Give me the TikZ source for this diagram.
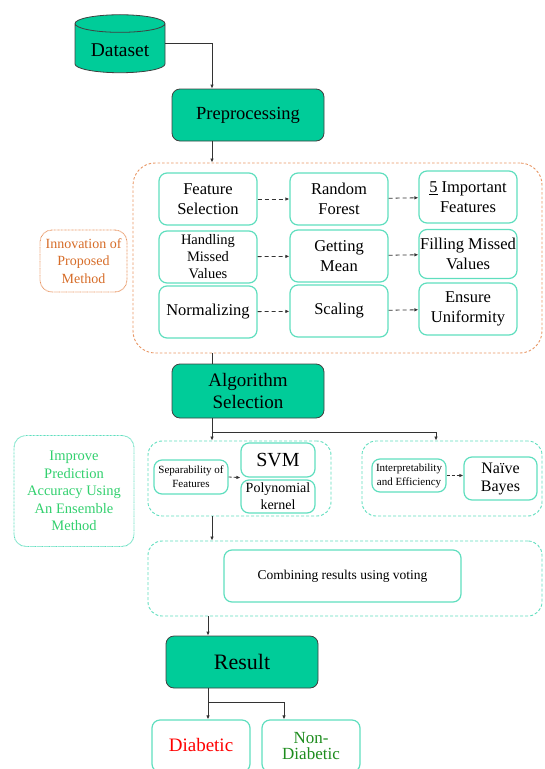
\documentclass[tikz,border=0pt]{standalone}
\usepackage{fontspec}
\setmainfont{Liberation Serif}
\usetikzlibrary{shapes.geometric,arrows.meta}
\definecolor{mint}{RGB}{0,204,153}
\definecolor{tealline}{RGB}{95,222,190}
\definecolor{orangeline}{RGB}{232,150,100}
\definecolor{orangetext}{RGB}{214,108,40}
\definecolor{greentext}{RGB}{50,208,110}
\definecolor{forestgreen}{RGB}{30,140,30}

\tikzset{
  mainbox/.style={draw=black!75, fill=mint, rounded corners=8pt, line width=0.8pt, align=center, inner sep=0pt},
  stepbox/.style={draw=tealline, line width=1.2pt, rounded corners=8pt, align=center, inner sep=0pt,
    font=\fontsize{16.5}{20}\selectfont, minimum width=98pt, minimum height=52pt},
  smallbox/.style={stepbox, minimum width=74pt, minimum height=34pt},
  groupbox/.style={draw=tealline, line width=0.9pt, dash pattern=on 3pt off 2pt, rounded corners=14pt, inner sep=0pt},
  notebox/.style={line width=0.9pt, dash pattern=on 0.8pt off 0.6pt, rounded corners=12pt, align=center, inner sep=0pt},
  flow/.style={->, draw=black!80, line width=0.8pt},
  dflow/.style={flow, dash pattern=on 4pt off 3pt}
}

\begin{document}
\begin{tikzpicture}[x=1pt, y=-1pt, >={Latex[length=4pt,width=3.5pt]}]
\useasboundingbox (0,0) rectangle (544,769);
% Input and preprocessing
\node[cylinder, shape border rotate=90, aspect=0.27, draw=black!75, fill=mint, line width=0.8pt,
  minimum width=90pt, minimum height=58pt, font=\fontsize{19.5}{22}\selectfont] (ds) at (120,50) {Dataset};
\node[mainbox, minimum width=152pt, minimum height=52pt, font=\fontsize{18.5}{22}\selectfont] (pre) at (248,115) {Preprocessing};
\coordinate (spine) at (212,0);
\coordinate (rspine) at (436,0);
\coordinate (lspine) at (208,0);
\coordinate (nspine) at (284,0);
% Innovation block
\node[draw=orangeline, line width=0.9pt, dash pattern=on 2.5pt off 2pt, rounded corners=22pt,
  minimum width=409pt, minimum height=190pt] (innov) at (337.5,258) {};
\node[notebox, draw=orangeline, text=orangetext, minimum width=87pt, minimum height=62pt,
  font=\fontsize{14}{17.5}\selectfont] (inv) at (83.5,261) {Innovation of\\Proposed\\Method};
\node[stepbox] (fs) at (208,199) {Feature\\Selection};
\node[stepbox] (rf) at (339,199) {Random\\Forest};
\node[stepbox] (imp) at (468,197) {\underline{5} Important\\Features};
\node[stepbox, font=\fontsize{14.5}{17}\selectfont] (hm) at (208,257) {Handling\\Missed\\Values};
\node[stepbox] (gm) at (339,256) {Getting\\Mean};
\node[stepbox, minimum height=49pt] (fm) at (468,254) {Filling Missed\\Values};
\node[stepbox] (nz) at (208,312) {\raisebox{4pt}{Normalizing}};
\node[stepbox] (sc) at (339,311) {\raisebox{4pt}{Scaling}};
\node[stepbox] (eu) at (468,309) {Ensure\\Uniformity};
\draw[dflow] (fs) -- (rf);
\draw[dflow] (rf) -- (imp);
\draw[dflow] (hm) -- (gm);
\draw[dflow] (gm) -- (fm);
\draw[dflow] (nz) -- (sc);
\draw[dflow] (sc) -- (eu);
% Algorithm selection
\node[mainbox, minimum width=152pt, minimum height=54pt, font=\fontsize{19}{22}\selectfont] (alg) at (248,391) {Algorithm\\Selection};
\node[groupbox, minimum width=183pt, minimum height=75pt] (svmgrp) at (239.5,478.5) {};
\node[groupbox, minimum width=180pt, minimum height=75pt] (nbgrp) at (452,478.5) {};
\node[notebox, draw=tealline, text=greentext, minimum width=120pt, minimum height=111pt,
  font=\fontsize{14.5}{17.5}\selectfont] (ens) at (74,491) {Improve\\Prediction\\Accuracy Using\\An Ensemble\\Method};
\node[smallbox, font=\fontsize{11}{14}\selectfont] (sep) at (191,477) {Separability of\\Features};
\node[smallbox, font=\fontsize{20}{22}\selectfont] (svm) at (278,460) {SVM};
\node[smallbox, minimum height=33pt, font=\fontsize{14}{17}\selectfont] (poly) at (278,496.5) {Polynomial\\kernel};
\node[smallbox, minimum height=33pt, font=\fontsize{11}{14}\selectfont] (intp) at (409,475.5) {Interpretability\\and Efficiency};
\node[smallbox, minimum width=73pt, minimum height=43pt, font=\fontsize{16}{18}\selectfont] (nb) at (500.5,478.5) {Naïve\\Bayes};
\draw[dflow, dash pattern=on 3pt off 2pt] (sep.east) -- (svm.south west);
\draw[dflow, dash pattern=on 3pt off 2pt] (intp.east) -- (intp.east -| nb.west);
% Voting and result
\node[groupbox, minimum width=394pt, minimum height=75pt] (combgrp) at (345,578.5) {};
\node[stepbox, minimum width=237pt, minimum height=52pt, font=\fontsize{13.5}{16}\selectfont] (comb) at (342.5,576) {Combining results using voting};
\node[mainbox, minimum width=152pt, minimum height=52pt, font=\fontsize{22}{24}\selectfont] (res) at (242,662) {Result};
\node[stepbox, text=red, font=\fontsize{19}{21}\selectfont] (dia) at (201,746) {\raisebox{3pt}{Diabetic}};
\node[stepbox, text=forestgreen, font=\fontsize{17}{16}\selectfont] (ndia) at (311,746) {Non-\\Diabetic};
% Connectors
\draw[flow] (ds.shape center -| ds.east) -| (pre.north -| spine);
\draw[flow] (pre.south -| spine) -- (innov.north -| spine);
\draw[draw=black!80, line width=0.8pt] (innov.south -| spine) -- (alg.north -| spine);
\draw[flow] (alg.south -| spine) -- (svmgrp.north -| spine);
\draw[flow] (alg.south -| spine) -- ++(0,14) -| (nbgrp.north -| rspine);
\draw[flow] (svmgrp.south -| spine) -- (combgrp.north -| spine);
\draw[flow] (combgrp.south -| lspine) -- (res.north -| lspine);
\draw[flow] (res.south -| lspine) -- (dia.north -| lspine);
\draw[flow] (res.south -| lspine) -- ++(0,14) -| (ndia.north -| nspine);
\end{tikzpicture}
\end{document}
